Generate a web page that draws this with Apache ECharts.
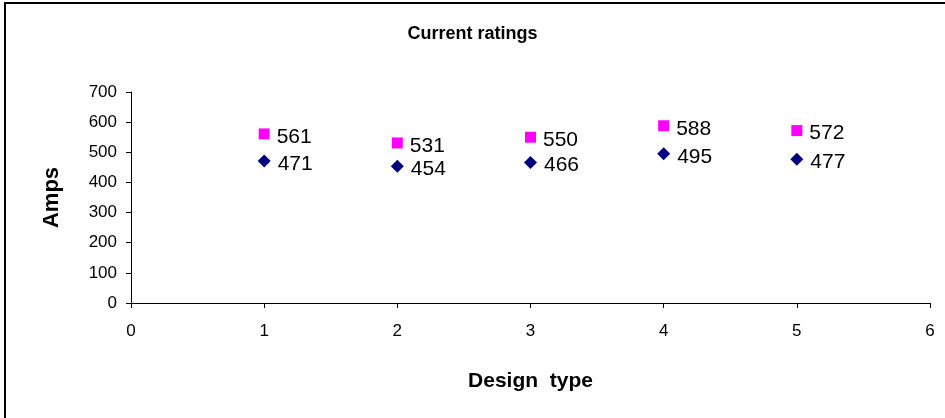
<!DOCTYPE html>
<html>
<head>
<meta charset="utf-8">
<script src="https://cdn.jsdelivr.net/npm/echarts@6/dist/echarts.min.js"></script>
<style>html,body{margin:0;padding:0;background:#fff}#c{width:945px;height:418px}</style>
</head>
<body>
<div id="c"></div>
<script>
const designTypes = [1, 2, 3, 4, 5];
const ratingA = [471, 454, 466, 495, 477];
const ratingB = [561, 531, 550, 588, 572];
const titleText = 'Current ratings';
const xName = 'Design  type';
const yName = 'Amps';

const font = '"Liberation Sans", Arial, sans-serif';
const chart = echarts.init(document.getElementById('c'), null, {renderer: 'canvas'});
const lbl = {show: true, position: 'right', distance: 7, offset: [0, 3], color: '#000', opacity: 1, fontSize: 21, fontFamily: font,
  formatter: p => p.value[1]};
chart.setOption({
  animation: false,
  backgroundColor: '#fff',
  graphic: [{type: 'rect', shape: {x: 5, y: 3, width: 960, height: 440}, style: {fill: 'none', stroke: '#000', lineWidth: 2}, silent: true}],
  title: {text: titleText, left: 'center', top: 20, textStyle: {fontFamily: font, fontWeight: 'bold', fontSize: 18, color: '#000'}},
  grid: {left: 131, right: 15, top: 92, bottom: 115},
  xAxis: {type: 'value', min: 0, max: 6, interval: 1, name: xName, nameLocation: 'middle', nameGap: 68,
    nameTextStyle: {fontFamily: font, fontWeight: 'bold', fontSize: 21, color: '#000'},
    axisLine: {show: true, lineStyle: {color: '#000', width: 1}},
    axisTick: {show: true, length: 5, lineStyle: {color: '#000'}},
    axisLabel: {margin: 20, fontFamily: font, fontSize: 17, color: '#000'},
    splitLine: {show: false}},
  yAxis: {type: 'value', min: 0, max: 700, interval: 100, name: yName, nameLocation: 'middle', nameGap: 68,
    nameTextStyle: {fontFamily: font, fontWeight: 'bold', fontSize: 22, color: '#000'},
    axisLine: {show: true, lineStyle: {color: '#000', width: 1}},
    axisTick: {show: true, length: 5, lineStyle: {color: '#000'}},
    axisLabel: {margin: 14, fontFamily: font, fontSize: 17, color: '#000'},
    splitLine: {show: false}},
  series: [
    {type: 'scatter', symbol: 'diamond', symbolSize: 13, itemStyle: {color: '#000080', opacity: 1},
     data: designTypes.map((x, i) => [x, ratingA[i]]), label: lbl},
    {type: 'scatter', symbol: 'rect', symbolSize: 11, itemStyle: {color: '#FF00FF', opacity: 1},
     data: designTypes.map((x, i) => [x, ratingB[i]]), label: lbl}
  ]
});
</script>
</body>
</html>
